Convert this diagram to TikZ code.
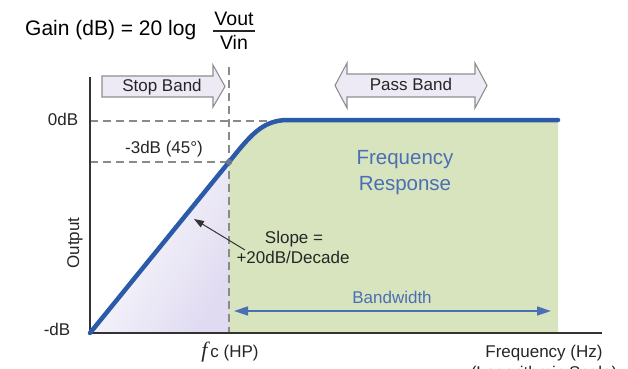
\documentclass[tikz,border=0pt]{standalone}
\usepackage{fontspec}
\setmainfont{Liberation Sans}
\newfontfamily\serifface{Liberation Serif}
\usetikzlibrary{arrows.meta}

\definecolor{curveblue}{HTML}{2B5BA8}
\definecolor{textblue}{HTML}{4A6FB5}
\definecolor{passgreen}{HTML}{D8E4BE}
\definecolor{stoplav}{HTML}{E0DBF1}
\definecolor{guidegray}{HTML}{8A8A8A}
\definecolor{bandfill}{HTML}{EDEAF6}
\definecolor{bandedge}{HTML}{8E8E8E}
\definecolor{axisdark}{HTML}{333333}

\tikzset{
  lbl/.style={inner sep=0pt, anchor=base, font=\fontsize{17}{20}\selectfont, text=black!85},
  bluelbl/.style={inner sep=0pt, anchor=base, text=textblue},
  axisline/.style={draw=axisdark, line width=1.8pt},
  guide/.style={draw=guidegray, line width=1.5pt, dash pattern=on 8pt off 5pt},
  response/.style={draw=curveblue, line width=4.5pt, line cap=round, line join=round},
  bandarrow/.style={draw=bandedge, fill=bandfill, line width=1.1pt, line join=miter},
  bwarrow/.style={draw=textblue, line width=1.6pt, {Triangle[length=14pt,width=9pt]}-{Triangle[length=14pt,width=9pt]}},
  pointer/.style={draw=black!80, line width=1pt, -{Triangle[length=10pt,width=7pt]}}
}

\begin{document}
\begin{tikzpicture}[x=1pt,y=-1pt]
\useasboundingbox (0,0) rectangle (628,368);
\clip (0,0) rectangle (628,368);

% key points of the plot
\coordinate (O) at (90,333);
\coordinate (ytop) at (90,77);
\coordinate (xend) at (602,333);
\coordinate (cut) at (229,162);
\coordinate (knee) at (288,120);
\coordinate (pend) at (558,120);

% shaded regions under the response
\fill[passgreen] (cut) .. controls (250,136) and (262,120) .. (knee) -- (pend) -- (558,333) -- (229,333) -- cycle;
\shade[left color=white, right color=stoplav, shading angle=60] (O) -- (cut) -- (229,333) -- cycle;

% guide lines
\draw[guide] (90,121) -- (276,121);
\draw[guide] (90,162) -- (cut);
\draw[guide] (229,67) -- (229,333);

% axes
\draw[axisline] (ytop) -- (O) -- (xend);

% response curve
\draw[response] (O) -- (cut) .. controls (250,136) and (262,120) .. (knee) -- (pend);
\fill[guidegray!60!curveblue] (cut) circle (3.2);

% band arrows
\draw[bandarrow] (102,76) -- (213,76) -- (213,65) -- (225,86.5) -- (213,107) -- (213,97) -- (102,97) -- cycle;
\node[lbl] (stop) at (162,91) {Stop Band};
\draw[bandarrow] (347,74) -- (475,74) -- (475,63) -- (487,85.5) -- (475,108) -- (475,97) -- (347,97) -- (347,108) -- (335,85.5) -- (347,63) -- cycle;
\node[lbl] (pass) at (411,90) {Pass Band};

% title
\node[inner sep=0pt, anchor=base west, font=\fontsize{21}{24}\selectfont] (gain) at (25,35.7) {Gain (dB) = 20 log};
\node[inner sep=0pt, anchor=base, font=\fontsize{19.5}{22}\selectfont] (vout) at (234,25) {Vout};
\node[inner sep=0pt, anchor=base, font=\fontsize{19.5}{22}\selectfont] (vin) at (234,49) {Vin};
\draw[line width=1.3pt, black!85] (213,31) -- (255,31);

% axis labels
\node[lbl] (zerodb) at (63,125) {0dB};
\node[lbl] (mindb) at (57,335) {-dB};
\node[lbl] (three) at (164,153) {-3dB (45°)};
\node[lbl, rotate=90] (output) at (79,243) {Output};
\node[lbl] (fc) at (230,357) {{\serifface\itshape\fontsize{22}{24}\selectfont f}\,c (HP)};
\node[lbl] (freq) at (544,357) {Frequency (Hz)};
\node[lbl] (logscale) at (544,378) {(Logarithmic Scale)};

% frequency response text
\node[bluelbl, font=\fontsize{20.5}{26}\selectfont] (fr1) at (405,164) {Frequency};
\node[bluelbl, font=\fontsize{20.5}{26}\selectfont] (fr2) at (405,190) {Response};

% slope annotation
\node[lbl] (slope1) at (294,243) {Slope =};
\node[lbl] (slope2) at (293,263) {+20dB/Decade};
\coordinate (slopetail) at (245,250);
\coordinate (slopetip) at (194,219);
\draw[pointer] (slopetail) -- (slopetip);

% bandwidth
\node[bluelbl, font=\fontsize{17}{20}\selectfont] (bw) at (392,303) {Bandwidth};
\coordinate (bwl) at (234,311);
\coordinate (bwr) at (551,311);
\draw[bwarrow] (bwl) -- (bwr);
\end{tikzpicture}
\end{document}
